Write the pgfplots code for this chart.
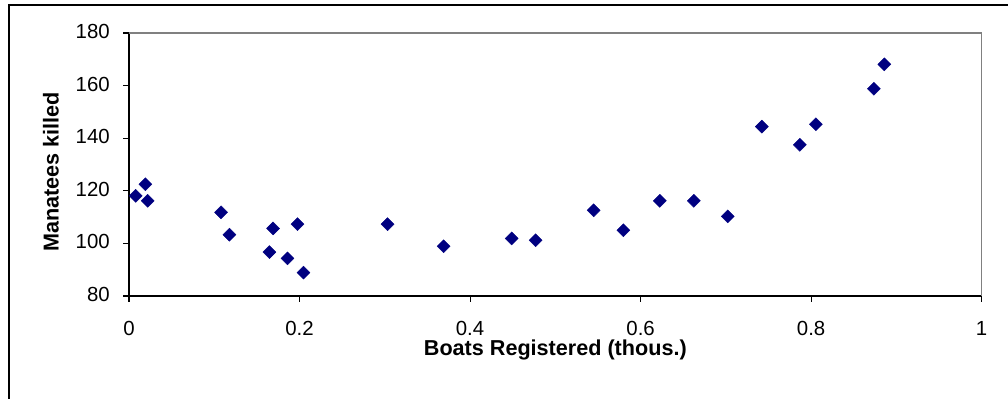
\documentclass[border=0pt]{standalone}
\usepackage{pgfplots}
\pgfplotsset{compat=1.18}
\usepackage{fontspec}
\setmainfont{Liberation Sans}
\definecolor{navy}{HTML}{000080}
\definecolor{framegray}{HTML}{808080}

\begin{document}
\begin{tikzpicture}
% page area and outer chart frame
\path[use as bounding box, clip] (0,0) rectangle (756pt,299.25pt);
\draw[black, line width=1.5pt] (7.1pt,-20pt) rectangle (780pt,295.7pt);

\begin{axis}[
  at={(96.75pt,77.25pt)}, anchor=south west,
  scale only axis,
  width=639.5pt, height=197.25pt,
  xmin=0, xmax=1, ymin=80, ymax=180,
  xtick={0,0.2,0.4,0.6,0.8,1},
  ytick={80,100,...,180},
  axis x line*=bottom, axis y line*=left,
  axis line style={black, line width=0.8pt},
  tick align=outside,
  major tick length=4.5pt,
  tick style={black, line width=0.8pt},
  /pgf/number format/assume math mode=true,
  /pgf/number format/fixed,
  tick label style={font=\fontsize{15.3}{17}\selectfont, inner sep=0pt},
  xticklabel style={anchor=north, yshift=-14.25pt},
  yticklabel style={anchor=east, xshift=-9.75pt, yshift=1.2pt},
  xlabel={Boats Registered (thous.)},
  ylabel={Manatees killed},
  label style={font=\fontsize{16.2}{18}\selectfont\bfseries, inner sep=0pt},
  xlabel style={at={(axis description cs:0.5,0)}, anchor=north, yshift=-33pt},
  ylabel style={at={(axis description cs:-0.0915,0.4715)}, anchor=center},
  clip=false,
]
\draw[framegray, line width=0.8pt] (rel axis cs:0,1) -- (rel axis cs:1,1) -- (rel axis cs:1,0);
\addplot[only marks, mark=square*, mark size=3.45pt,
  mark options={fill=navy, draw=navy, line width=0.3pt, rotate=45}]
  coordinates {
  (0.0079,118.1) (0.0192,122.5) (0.0219,116.2)
  (0.1080,111.8) (0.1178,103.3) (0.1647,96.7)
  (0.1690,105.7) (0.1858,94.3)  (0.1976,107.3)
  (0.2046,88.9)  (0.3032,107.3) (0.3690,98.9)
  (0.4488,101.9) (0.4769,101.2) (0.5450,112.6)
  (0.5798,105.0) (0.6225,116.2) (0.6624,116.2)
  (0.7022,110.3) (0.7422,144.4) (0.7867,137.5)
  (0.8055,145.3) (0.8736,158.8) (0.8858,168.1)
  };
\end{axis}
\end{tikzpicture}
\end{document}
